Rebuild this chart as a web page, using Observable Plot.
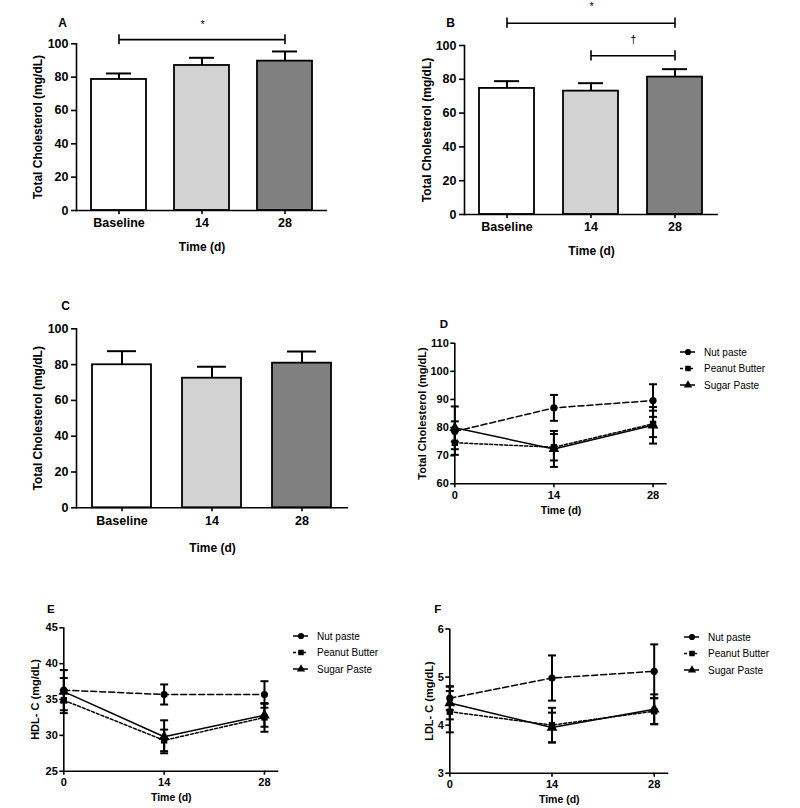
<!DOCTYPE html>
<html>
<head>
<meta charset="utf-8">
<script src="https://cdn.jsdelivr.net/npm/d3@7"></script>
<script src="https://cdn.jsdelivr.net/npm/@observablehq/plot@0.6"></script>
<style>
html, body { margin: 0; padding: 0; background: #fff; }
#wrap { position: relative; width: 800px; height: 808px; overflow: hidden; font-family: "Liberation Sans", Arial, sans-serif; }
.panel { position: absolute; }
.panel svg { max-width: none; }
</style>
</head>
<body>
<div id="wrap"></div>
<script>
// ---------- DATA ----------
const barCategories = ["Baseline", "14", "28"];
const days = [0, 14, 28];
const seriesNames = ["Nut paste", "Peanut Butter", "Sugar Paste"];

// Total cholesterol (mg/dL), mean and SEM
const tcNutMean = [78.6, 87.0, 89.6];
const tcNutSem = [3.6, 4.6, 5.8];
const tcPeanutMean = [74.6, 73.0, 81.3];
const tcPeanutSem = [4.3, 4.7, 4.7];
const tcSugarMean = [79.9, 72.4, 80.8];
const tcSugarSem = [7.6, 6.4, 6.5];

// HDL-C (mg/dL)
const hdlNutMean = [36.3, 35.7, 35.7];
const hdlNutSem = [1.7, 1.4, 1.85];
const hdlPeanutMean = [34.9, 29.3, 32.5];
const hdlPeanutSem = [1.4, 1.5, 2.0];
const hdlSugarMean = [36.1, 29.8, 32.8];
const hdlSugarSem = [3.0, 2.3, 1.6];

// LDL-C (mg/dL)
const ldlNutMean = [4.56, 4.98, 5.12];
const ldlNutSem = [0.25, 0.47, 0.56];
const ldlPeanutMean = [4.28, 4.0, 4.29];
const ldlPeanutSem = [0.43, 0.36, 0.27];
const ldlSugarMean = [4.46, 3.95, 4.33];
const ldlSugarSem = [0.34, 0.31, 0.31];

// significance brackets
const bracketsA = [{from: "Baseline", to: "28", level: 102.5, label: "*", labelLevel: 111.5}];
const bracketsB = [
  {from: "Baseline", to: "28", level: 113.2, label: "*", labelLevel: 123},
  {from: "14", to: "28", level: 93.9, label: "\u2020", labelLevel: 103.5}
];

// tick values
const barTicks = [0, 20, 40, 60, 80, 100];
const tcTicks = [60, 70, 80, 90, 100, 110];
const hdlTicks = [25, 30, 35, 40, 45];
const ldlTicks = [3, 4, 5, 6];

// ---------- STYLE ----------
const FONT = "Liberation Sans, Arial, sans-serif";
const barFills = ["#ffffff", "#d2d2d2", "#808080"];
const seriesStyle = {
  "Nut paste": {symbol: "circle", dash: "6,3", r: 3.6},
  "Peanut Butter": {symbol: "square", dash: "3,2", r: 3.6},
  "Sugar Paste": {symbol: "triangle", dash: null, r: 4.0}
};
const capSymbol = {draw(ctx, size) { const w = Math.sqrt(size / Math.PI); ctx.moveTo(-w, 0); ctx.lineTo(w, 0); }};

const wrap = document.getElementById("wrap");
function addPanel(left, top, node) {
  const div = document.createElement("div");
  div.className = "panel";
  div.style.left = left + "px";
  div.style.top = top + "px";
  div.appendChild(node);
  wrap.appendChild(div);
  return div;
}

function barPanel(cfg) {
  const {left, top, width, height, mL, mR, mT, mB, letter, letterDx, letterDy, mean, sem, brackets, titleDx, xTitleDy} = cfg;
  const rows = barCategories.map((c, i) => ({cat: c, mean: mean[i], top: mean[i] + sem[i], fill: barFills[i]}));
  const step = (width - mL - mR) / barCategories.length;
  const marks = [
    Plot.barY(rows, {x: "cat", y: "mean", fill: "fill", stroke: "black", strokeWidth: 1.8}),
    Plot.ruleX(rows, {x: "cat", y1: "mean", y2: "top", stroke: "black", strokeWidth: 2}),
    Plot.tickY(rows, {x: "cat", y: "top", stroke: "black", strokeWidth: 2, insetLeft: 15, insetRight: 15}),
    Plot.ruleY([0], {stroke: "black", strokeWidth: 1.6}),
    Plot.frame({anchor: "left", stroke: "black", strokeWidth: 1.6}),
    Plot.axisY({ticks: barTicks, tickSize: 5, tickPadding: 3, label: null, fontSize: 12.5, fontWeight: "bold", strokeWidth: 1.6}),
    Plot.axisX({tickSize: 4, tickPadding: 4, label: null, fontSize: 12.5, fontWeight: "bold", strokeWidth: 1.6}),
    Plot.text(["Total Cholesterol (mg/dL)"], {frameAnchor: "left", rotate: -90, dx: titleDx, textAnchor: "middle", lineAnchor: "middle", fontSize: 12, fontWeight: "bold"}),
    Plot.text(["Time (d)"], {frameAnchor: "bottom", dy: xTitleDy, textAnchor: "middle", lineAnchor: "middle", fontSize: 12, fontWeight: "bold"}),
    Plot.text([letter], {frameAnchor: "top-left", dx: letterDx, dy: letterDy, textAnchor: "middle", lineAnchor: "middle", fontSize: 12, fontWeight: "bold"})
  ];
  for (const b of brackets) {
    const span = barCategories.indexOf(b.to) - barCategories.indexOf(b.from);
    marks.push(
      Plot.link([b], {x1: "from", x2: "to", y1: "level", y2: "level", stroke: "black", strokeWidth: 1.6}),
      Plot.ruleX([b.from, b.to], {x: d => d, y1: b.level - 3, y2: b.level + 3, stroke: "black", strokeWidth: 1.6}),
      Plot.text([b], {x: "from", y: "labelLevel", text: "label", dx: span * step / 2, fontSize: 11, fontWeight: "normal"})
    );
  }
  const plot = Plot.plot({
    width, height, marginLeft: mL, marginRight: mR, marginTop: mT, marginBottom: mB,
    style: {fontFamily: FONT, color: "black", background: "transparent", overflow: "visible"},
    x: {type: "band", domain: barCategories, paddingInner: 0.34, paddingOuter: 0.17, label: null},
    y: {domain: [0, 100], label: null},
    color: {type: "identity"},
    marks
  });
  addPanel(left, top, plot);
}

function linePanel(cfg) {
  const {left, top, width, height, mL, mR, mT, mB, letter, letterDx, letterDy, yDomain, yTicks, title, titleDx, means, sems, legend} = cfg;
  const rows = [];
  seriesNames.forEach((s, k) => days.forEach((d, i) => rows.push({series: s, day: d, mean: means[k][i], lo: means[k][i] - sems[k][i], hi: means[k][i] + sems[k][i]})));
  const marks = [
    Plot.ruleX([0], {stroke: "black", strokeWidth: 1.6}),
    Plot.ruleY([yDomain[0]], {stroke: "black", strokeWidth: 1.6}),
    Plot.axisX({ticks: days, tickFormat: d => String(d), tickSize: 4, tickPadding: 3, label: null, fontSize: 11, fontWeight: "bold", strokeWidth: 1.6}),
    Plot.axisY({ticks: yTicks, tickFormat: d => String(d), tickSize: 4, tickPadding: 2, label: null, fontSize: 11, fontWeight: "bold", strokeWidth: 1.6})
  ];
  for (const s of seriesNames) {
    const st = seriesStyle[s];
    marks.push(Plot.line(rows.filter(r => r.series === s), {x: "day", y: "mean", stroke: "black", strokeWidth: 1.5, strokeDasharray: st.dash || undefined}));
  }
  marks.push(
    Plot.ruleX(rows, {x: "day", y1: "lo", y2: "hi", stroke: "black", strokeWidth: 2}),
    Plot.dot(rows, {x: "day", y: "lo", symbol: capSymbol, r: 4, fill: "none", stroke: "black", strokeWidth: 2}),
    Plot.dot(rows, {x: "day", y: "hi", symbol: capSymbol, r: 4, fill: "none", stroke: "black", strokeWidth: 2})
  );
  for (const s of seriesNames) {
    const st = seriesStyle[s];
    marks.push(Plot.dot(rows.filter(r => r.series === s), {x: "day", y: "mean", symbol: st.symbol, r: st.r, fill: "black", stroke: "none"}));
  }
  marks.push(
    Plot.text([title], {frameAnchor: "left", rotate: -90, dx: titleDx, textAnchor: "middle", lineAnchor: "middle", fontSize: 11, fontWeight: "bold"}),
    Plot.text(["Time (d)"], {frameAnchor: "bottom", dy: 26.5, textAnchor: "middle", lineAnchor: "middle", fontSize: 10.5, fontWeight: "bold"}),
    Plot.text([letter], {frameAnchor: "top-left", dx: letterDx, dy: letterDy, textAnchor: "middle", lineAnchor: "middle", fontSize: 11.5, fontWeight: "bold"})
  );
  const plot = Plot.plot({
    width, height, marginLeft: mL, marginRight: mR, marginTop: mT, marginBottom: mB,
    style: {fontFamily: FONT, color: "black", background: "transparent", overflow: "visible"},
    x: {domain: [0, 30], label: null},
    y: {domain: yDomain, label: null},
    marks
  });
  const div = addPanel(left, top, plot);

  // legend
  const lg = d3.create("svg").attr("width", 120).attr("height", 60)
    .style("position", "absolute").style("left", legend.x + "px").style("top", legend.y + "px").style("overflow", "visible");
  seriesNames.forEach((s, k) => {
    const st = seriesStyle[s];
    const g = lg.append("g").attr("transform", `translate(0,${8 + k * 16.5})`);
    g.append("line").attr("x1", 0).attr("x2", 15).attr("y1", 0).attr("y2", 0)
      .attr("stroke", "black").attr("stroke-width", 1.5).attr("stroke-dasharray", st.dash || null);
    const symType = st.symbol === "circle" ? d3.symbolCircle : st.symbol === "square" ? d3.symbolSquare : d3.symbolTriangle;
    g.append("path").attr("transform", "translate(8,0)").attr("d", d3.symbol(symType, 30)()).attr("fill", "black");
    g.append("text").attr("x", 24).attr("y", 0).attr("dy", "0.35em")
      .attr("font-family", FONT).attr("font-size", 10).attr("fill", "black").text(s);
  });
  div.appendChild(lg.node());
}

// ---------- PANELS ----------
barPanel({left: 0, top: 0, width: 400, height: 260, mL: 76, mR: 73, mT: 43.3, mB: 50,
  letter: "A", letterDx: -14, letterDy: -21, mean: tcNutMean, sem: tcNutSem, brackets: bracketsA, titleDx: -38, xTitleDy: 37});
barPanel({left: 400, top: 0, width: 400, height: 260, mL: 64, mR: 82, mT: 45, mB: 46,
  letter: "B", letterDx: -14, letterDy: -22, mean: tcPeanutMean, sem: tcPeanutSem, brackets: bracketsB, titleDx: -37.5, xTitleDy: 37});
barPanel({left: 0, top: 260, width: 400, height: 300, mL: 76, mR: 52, mT: 68.3, mB: 52.7,
  letter: "C", letterDx: -11, letterDy: -23, mean: tcSugarMean, sem: tcSugarSem, brackets: [], titleDx: -38, xTitleDy: 40});

linePanel({left: 400, top: 270, width: 400, height: 270, mL: 54.3, mR: 133.3, mT: 72.7, mB: 56.7,
  letter: "D", letterDx: -11, letterDy: -19, yDomain: [60, 110], yTicks: tcTicks, title: "Total Cholesterol (mg/dL)", titleDx: -32,
  means: [tcNutMean, tcPeanutMean, tcSugarMean], sems: [tcNutSem, tcPeanutSem, tcSugarSem], legend: {x: 280, y: 74}});
linePanel({left: 0, top: 560, width: 400, height: 248, mL: 63.3, mR: 121.7, mT: 67.3, mB: 37.3,
  letter: "E", letterDx: -13, letterDy: -18, yDomain: [25, 45], yTicks: hdlTicks, title: "HDL- C (mg/dL)", titleDx: -28,
  means: [hdlNutMean, hdlPeanutMean, hdlSugarMean], sems: [hdlNutSem, hdlPeanutSem, hdlSugarSem], legend: {x: 292.5, y: 68.3}});
linePanel({left: 400, top: 560, width: 400, height: 248, mL: 49.3, mR: 131.7, mT: 68.5, mB: 35.3,
  letter: "F", letterDx: -12, letterDy: -19.5, yDomain: [3, 6], yTicks: ldlTicks, title: "LDL- C (mg/dL)", titleDx: -20,
  means: [ldlNutMean, ldlPeanutMean, ldlSugarMean], sems: [ldlNutSem, ldlPeanutSem, ldlSugarSem], legend: {x: 283.5, y: 68.7}});
</script>
</body>
</html>
